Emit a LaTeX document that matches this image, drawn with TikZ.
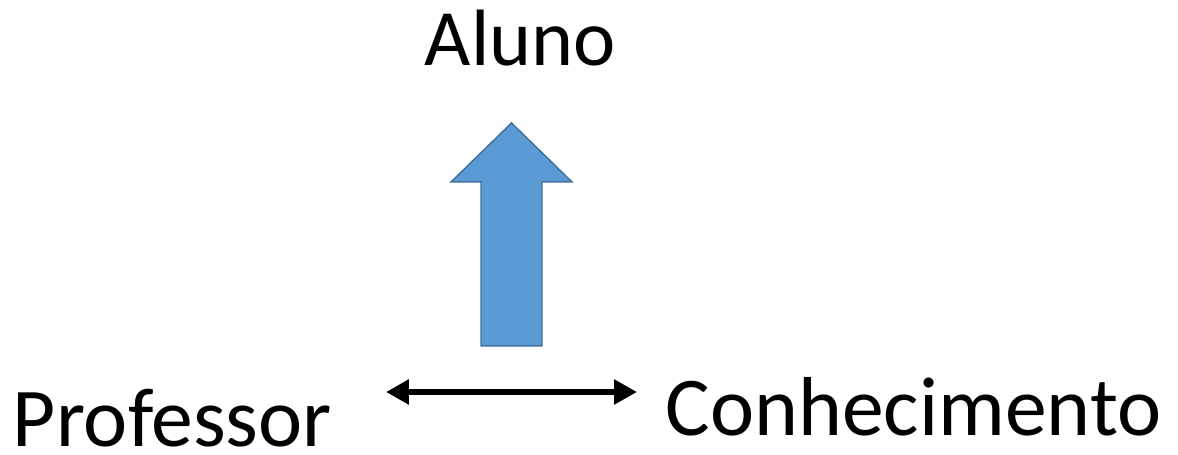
\documentclass[tikz,border=0pt]{standalone}
\usepackage{fontspec}
\setmainfont{Carlito}
\usetikzlibrary{arrows.meta}
\definecolor{setaazul}{HTML}{5B9BD5}
\definecolor{setaborda}{HTML}{41719C}

\begin{document}
\begin{tikzpicture}[x=0.02cm, y=-0.02cm, line width=1pt, >={Triangle[length=0.46cm, width=0.48cm]},
    rotulo/.style={anchor=base west, inner sep=0pt, font=\fontsize{47.6}{57}\selectfont}]
     \useasboundingbox (0,0) rectangle (1178,455);
   	 \node[rotulo, font=\fontsize{45.5}{55}\selectfont] (aluno) at (424,66) {Aluno};
   	 \node[rotulo] (prof) at (12,447) {Professor};
   	 \node[rotulo] (conh) at (665,436) {Conhecimento};
   	 % seta grande
   	 \draw[fill=setaazul, draw=setaborda, line width=0.85pt]
   	   (511.5,123) -- (572,182) -- (542,182) -- (542,346) -- (481,346) -- (481,182) -- (451,182) -- cycle;
   	 \coordinate (esq) at (386,392);
   	 \coordinate (dir) at (637,392);
   	 \draw[<->, line width=3.4pt] (esq) -- (dir);
\end{tikzpicture}
\end{document}
